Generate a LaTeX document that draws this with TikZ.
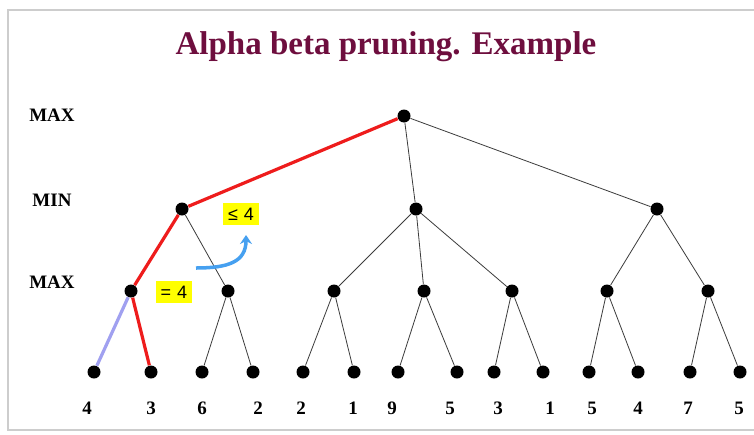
\documentclass[tikz,border=0pt]{standalone}
\usepackage{fontspec}
\setmainfont{Liberation Serif}
\newfontfamily\boxfont{Liberation Sans}
\usetikzlibrary{arrows.meta}
\definecolor{ink}{RGB}{0,0,0}
\definecolor{edge}{RGB}{60,60,60}
\definecolor{plum}{RGB}{110,14,62}
\definecolor{cut}{RGB}{238,28,28}
\definecolor{faded}{RGB}{160,160,240}
\definecolor{hint}{RGB}{70,160,240}
\definecolor{mark}{RGB}{255,255,0}
\definecolor{frame}{RGB}{205,205,205}
\tikzset{
  every picture/.style={x=1pt, y=-1pt, line width=0.8pt},
  dot/.style={circle, fill=ink, inner sep=0pt, minimum size=13pt},
  branch/.style={draw=edge, line width=0.8pt},
  best/.style={draw=cut, line width=3.2pt},
  skipped/.style={draw=faded, line width=3.2pt},
  level/.style={font=\bfseries\fontsize{19}{19}\selectfont, text=ink},
  score/.style={font=\bfseries\fontsize{19}{19}\selectfont, text=ink, anchor=base},
  bound/.style={fill=mark, inner xsep=5pt, inner ysep=5pt, font=\boxfont\fontsize{18}{18}\selectfont},
  back/.style={draw=hint, line width=3.5pt, -{Stealth[length=9pt,width=12pt]}},
}
\begin{document}
\begin{tikzpicture}
  \useasboundingbox (0,0) rectangle (754,434);
  \fill[white] (0,0) rectangle (754,434);
  \draw[frame, line width=1.5pt] (8,10) rectangle (770,430);
  \node[font=\bfseries\fontsize{33}{33}\selectfont, text=plum] (title) at (386,47) {Alpha beta pruning. Example};

  % levels
  \node[level] (lv0) at (52,115) {MAX};
  \node[level] (lv1) at (52,200) {MIN};
  \node[level] (lv2) at (52,282) {MAX};

  % tree
  \node[dot] (r) at (404,116) {};
  \node[dot] (m1) at (182,209) {};
  \node[dot] (m2) at (416,209) {};
  \node[dot] (m3) at (657,209) {};
  \foreach \n/\x in {a1/131,a2/228,a3/334,a4/424,a5/512,a6/607,a7/708}
    \node[dot] (\n) at (\x,291) {};
  \foreach \n/\x in {l1/94,l2/151,l3/202,l4/253,l5/303,l6/354,l7/398,l8/457,l9/494,l10/543,l11/589,l12/638,l13/690,l14/740}
    \node[dot] (\n) at (\x,372) {};

  \draw[best] (r) -- (m1);
  \draw[best] (m1) -- (a1);
  \draw[best] (a1) -- (l2);
  \draw[skipped] (a1) -- (l1);
  \foreach \p/\c in {r/m2,r/m3,m1/a2,m2/a3,m2/a4,m2/a5,m3/a6,m3/a7,a2/l3,a2/l4,a3/l5,a3/l6,a4/l7,a4/l8,a5/l9,a5/l10,a6/l11,a6/l12,a7/l13,a7/l14}
    \draw[branch] (\p) -- (\c);

  % leaf values
  \foreach \n/\x/\v in {v1/87/4,v2/151/3,v3/202/6,v4/258/2,v5/301/2,v6/353/1,v7/392/9,v8/450/5,v9/498/3,v10/550/1,v11/592/5,v12/638/4,v13/688/7,v14/739/5}
    \node[score] (\n) at (\x,414) {\v};

  % bounds
  \node[bound] (le) at (241,214) {≤\,\,4};
  \node[bound] (eq) at (174,292) {=\,\,4};
  \coordinate (h0) at (196,268);
  \coordinate (h1) at (246,235);
  \draw[back] (h0) .. controls (228,268) and (246,262) .. (h1);
\end{tikzpicture}
\end{document}
